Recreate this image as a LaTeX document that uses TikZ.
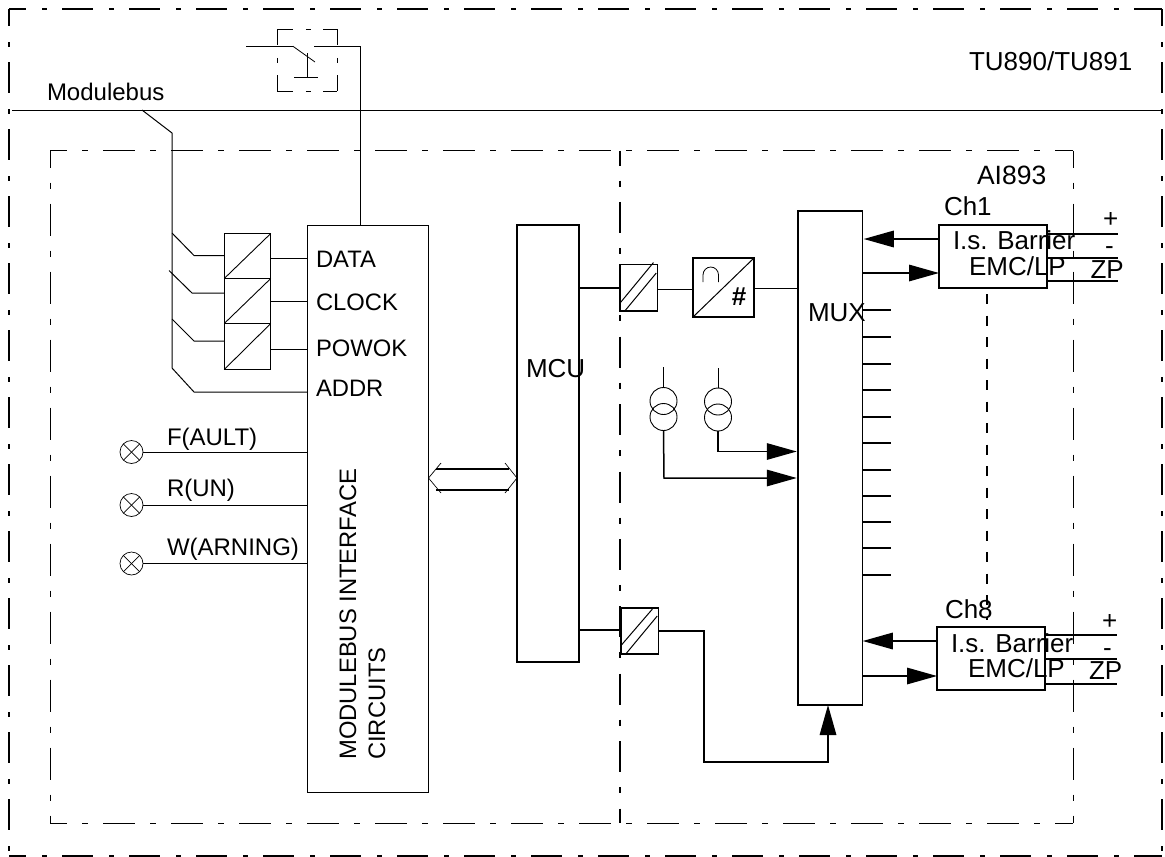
\documentclass[tikz,border=0pt]{standalone}
\usepackage{fontspec}
\setmainfont{Liberation Sans}
\usetikzlibrary{arrows.meta}
\tikzset{
 x=1pt,y=-1pt,
 box/.style={draw,line width=1.5pt,rectangle,inner sep=0pt,outer sep=0pt,fill=none},
 thinbox/.style={box,line width=1pt},
 wire/.style={line width=1pt},
 hwire/.style={line width=1.5pt},
 lbl/.style={anchor=base west,inner sep=0pt,outer sep=0pt,font=\fontsize{#1}{#1}\selectfont},
 lbl/.default=23.8,
 biglbl/.style={lbl=26},
 lamp/.style={draw,circle,minimum size=23pt,inner sep=0pt,outer sep=0pt,line width=.7pt},
 src/.style={draw,circle,minimum size=27pt,inner sep=0pt,outer sep=0pt,line width=.9pt},
 outerframe/.style={line width=2pt,dash pattern=on 31pt off 16pt on 5pt off 15pt,dash phase=14pt},
 outerbottom/.style={line width=1.1pt,dash pattern=on 31pt off 16pt on 5pt off 15pt,dash phase=14pt},
 innerframe/.style={line width=1pt,dash pattern=on 32pt off 15pt on 6pt off 15pt,dash phase=15pt},
 splitline/.style={line width=1.5pt,dash pattern=on 31pt off 15pt on 6pt off 15.4pt,dash phase=16pt},
 linkline/.style={line width=1.5pt,dash pattern=on 10pt off 11.5pt},
 switchframe/.style={line width=.9pt,dash pattern=on 16pt off 12.5pt on 5pt off 12.5pt},
 arr/.style={hwire,-{Triangle[length=30pt,width=16.5pt]}},
}
\begin{document}
\begin{tikzpicture}
\useasboundingbox (0,0) rectangle (1165,857);
% outer frame
\coordinate (oTL) at (9,9); \coordinate (oTR) at (1162,9);
\coordinate (oBL) at (9,856); \coordinate (oBR) at (1162,856);
\draw[outerframe] (oTL) -- (oTR);
\draw[outerframe] (oTL) -- (oBL);
\draw[outerframe] (oTR) -- (oBR);
\draw[outerbottom] (oBL) -- (oBR);
% inner frame
\coordinate (iTL) at (50,150.5); \coordinate (iTR) at (1073,150.5);
\coordinate (iBL) at (50,823); \coordinate (iBR) at (1073,823);
\coordinate (iTM) at (620,150.5); \coordinate (iBM) at (620,823);
\draw[innerframe] (iTL) -- (iTR);
\draw[innerframe] (iBL) -- (iBR);
\draw[innerframe] (iTL) -- (iBL);
\draw[innerframe] (iTR) -- (iBR);
\draw[splitline] (iTM) -- (iBM);
% modulebus
\coordinate (busL) at (12,110); \coordinate (busR) at (1162,110);
\draw[wire] (busL) -- (busR);
\node[lbl=24] (modbus) at (47,100.7) {Modulebus};
\node[lbl=26] (tu) at (969,70.7) {TU890/TU891};
% main boxes
\node[thinbox,minimum width=121pt,minimum height=567pt] (iface) at (368,509) {};
\node[box,minimum width=62pt,minimum height=437pt] (mcu) at (548,443.5) {};
\node[box,minimum width=64.5pt,minimum height=494pt] (mux) at (830,458) {};
% converters left
\node[thinbox,minimum width=46.5pt,minimum height=45pt] (cA) at (247.5,256) {};
\node[thinbox,minimum width=46.5pt,minimum height=45pt] (cB) at (247.5,301) {};
\node[thinbox,minimum width=46.5pt,minimum height=46pt] (cC) at (247.5,346.5) {};
\foreach \n in {cA,cB,cC} \draw[line width=.9pt] (\n.south west) -- (\n.north east);
% bus branches
\coordinate (tapTop) at (142,110); \coordinate (tapCorner) at (172,133);
\coordinate (tapEnd) at (172,368); \coordinate (addrBend) at (194,392);
\draw[wire] (tapTop) -- (tapCorner) -- (tapEnd) -- (addrBend) -- (iface.west |- addrBend);
\coordinate (bA0) at (172,233); \coordinate (bA1) at (194,255.5);
\coordinate (bB0) at (169,270.5); \coordinate (bB1) at (192,293);
\coordinate (bC0) at (172,319); \coordinate (bC1) at (194,341);
\draw[wire] (bA0) -- (bA1) -- (cA.west |- bA1);
\draw[wire] (bB0) -- (bB1) -- (cB.west |- bB1);
\draw[wire] (bC0) -- (bC1) -- (cC.west |- bC1);
\draw[wire] (cA.east |- 0,258) -- (iface.west |- 0,258);
\draw[wire] (cB.east |- 0,301) -- (iface.west |- 0,301);
\draw[wire] (cC.east |- 0,349) -- (iface.west |- 0,349);
\node[lbl] at (316,267.7) {DATA};
\node[lbl] at (316,310.7) {CLOCK};
\node[lbl] at (316,356.7) {POWOK};
\node[lbl] at (316,396.7) {ADDR};
% switch
\coordinate (swA) at (246,46.3); \coordinate (swB) at (293,46.3);
\coordinate (swC) at (315,62); \coordinate (swD) at (314,46.3);
\coordinate (swE) at (360,46.3);
\coordinate (swF) at (307.5,53); \coordinate (swG) at (307.5,77);
\coordinate (swH) at (294,77); \coordinate (swI) at (318,77);
\draw[wire] (swA) -- (swB);
\draw[line width=.8pt] (swB) -- (swC);
\draw[wire] (swD) -- (swE) -- (iface.north -| swE);
\draw[wire] (swF) -- (swG);
\draw[wire] (swH) -- (swI);
\coordinate (fA) at (277.3,29.3); \coordinate (fB) at (337.3,29.3);
\coordinate (fC) at (277.3,91); \coordinate (fD) at (337.3,91);
\draw[switchframe] (fA) -- (fB);
\draw[switchframe] (fC) -- (fD);
\draw[switchframe] (fA) -- (fC);
\draw[switchframe] (fB) -- (fD);
% lamps
\node[lamp] (lF) at (131.5,452) {};
\node[lamp] (lR) at (131.5,505) {};
\node[lamp] (lW) at (131.5,563.5) {};
\foreach \n in {lF,lR,lW} {
 \draw[line width=.7pt] (\n.45) -- (\n.225);
 \draw[line width=.7pt] (\n.135) -- (\n.-45);
 \draw[wire] (\n.east) -- (iface.west |- \n.east);
}
\node[lbl=24] at (167,445) {F(AULT)};
\node[lbl=24] at (167,496.7) {R(UN)};
\node[lbl=24] at (167,555.7) {W(ARNING)};
% rotated text
\node[anchor=base west,rotate=90,inner sep=0pt,font=\fontsize{23.8}{23.8}\selectfont] at (356,760) {MODULEBUS INTERFACE};
\node[anchor=base west,rotate=90,inner sep=0pt,font=\fontsize{23.8}{23.8}\selectfont] at (385,760) {CIRCUITS};
% bus arrow
\coordinate (dL) at (iface.east |- 0,478); \coordinate (dR) at (mcu.west |- 0,478);
\coordinate (dLu) at (441,463); \coordinate (dLd) at (441,493);
\coordinate (dRu) at (505,463); \coordinate (dRd) at (505,493);
\coordinate (dLa) at (436,469); \coordinate (dLb) at (436,490);
\coordinate (dRa) at (509,469); \coordinate (dRb) at (509,490);
\draw[line width=.7pt] (dLu) -- (dL) -- (dLd);
\draw[line width=.7pt] (dRu) -- (dR) -- (dRd);
\draw[hwire] (dLa) -- (dRa);
\draw[hwire] (dLb) -- (dRb);
\node[biglbl] at (526,377.7) {MCU};
\node[biglbl] at (808,321) {MUX};
% converters right
\node[box,minimum width=37.5pt,minimum height=46.5pt] (cD) at (638.5,287.8) {};
\node[box,minimum width=37.5pt,minimum height=46pt] (cE) at (639.5,631) {};
\draw[line width=1pt] ([yshift=-.5pt,xshift=.7pt]cD.south west) ++(0,-9) -- ++(33,-40);
\draw[line width=1pt] ([xshift=5pt]cD.south west) -- ++(31.5,-38);
\draw[line width=1pt] ([xshift=.7pt]cE.south west) ++(0,-9) -- ++(31,-36);
\draw[line width=1pt] ([xshift=5pt]cE.south west) -- ++(31.5,-38);
\node[box,minimum width=61pt,minimum height=59pt] (adc) at (723.5,287.5) {};
\draw[line width=1pt] (adc.south west) -- (adc.north east);
\coordinate (arcA) at (703,282); \coordinate (arcB) at (718.5,282);
\draw[line width=.8pt] (arcA) -- ++(0,-7) arc[start angle=180,end angle=0,x radius=7.75pt,y radius=8pt] -- (arcB);
\node[font=\bfseries\fontsize{26}{26}\selectfont,inner sep=0pt] (hash) at (739,296.5) {\#};
\draw[hwire] (mcu.east |- 0,288) -- (cD.west |- 0,288);
\draw[wire] (cD.east |- 0,289) -- (adc.west |- 0,289);
\draw[wire] (adc.east |- 0,288) -- (mux.west |- 0,288);
\draw[hwire] (mcu.east |- 0,630) -- (cE.west |- 0,630);
\coordinate (pA) at (704,631); \coordinate (pB) at (704,762); \coordinate (pC) at (828,762);
\draw[arr] (cE.east |- pA) -- (pA) -- (pB) -- (pC) -- (mux.south -| pC);
% current sources
\node[src] (s1a) at (663.5,401) {};
\node[src] (s1b) at (663.5,417) {};
\node[src] (s2a) at (718,401.5) {};
\node[src] (s2b) at (718,417.5) {};
\coordinate (s1t) at (663,367); \coordinate (s2t) at (718,368);
\draw[wire] (s1t) -- (s1a.north -| s1t);
\draw[wire] (s2t) -- (s2a.north);
\coordinate (s1c) at (664,478); \coordinate (s2c) at (718,451.5);
\draw[arr] (s1b.south) -- (s1c) -- ([xshift=-1pt]mux.west |- s1c);
\draw[arr] (s2b.south) -- (s2c) -- ([xshift=-1pt]mux.west |- s2c);
% mux ticks
\foreach \i/\y in {1/310,2/337,3/364,4/390,5/417,6/443,7/470,8/496,9/522,10/548,11/575}{
 \coordinate (t\i) at (891,\y);
 \draw[hwire] (mux.east |- t\i) -- (t\i);
}
% channel boxes
\node[box,minimum width=108pt,minimum height=63pt] (ch1) at (993,256.5) {};
\node[box,minimum width=108pt,minimum height=63pt] (ch8) at (991,658.5) {};
\draw[arr] (ch1.west |- 0,239) -- ([xshift=1.5pt]mux.east |- 0,239);
\draw[arr] (mux.east |- 0,273) -- (ch1.west |- 0,273);
\draw[arr] (ch8.west |- 0,641) -- ([xshift=.5pt]mux.east |- 0,641);
\draw[arr] (mux.east |- 0,676) -- (ch8.west |- 0,676);
\foreach \i/\y in {a/234,b/258,c/281}{
 \coordinate (o\i) at (1118,\y);
 \draw[hwire] (ch1.east |- o\i) -- (o\i);
}
\foreach \i/\y in {d/635,e/659,f/684}{
 \coordinate (o\i) at (1117,\y);
 \draw[hwire] (ch8.east |- o\i) -- (o\i);
}
\coordinate (lnkA) at (987,294); \coordinate (lnkB) at (987,620);
\draw[linkline] (lnkA) -- (lnkB);
\node[lbl=26.5] at (977,184) {AI893};
\node[biglbl] at (944,215.7) {Ch1};
\node[biglbl] at (953,249.7) {I.s. Barrier};
\node[biglbl] at (969,275) {EMC/LP};
\node[biglbl] at (1103,227) {+};
\node[biglbl] at (1105,254) {-};
\node[biglbl] at (1090.5,278) {ZP};
\node[biglbl] at (945,618.7) {Ch8};
\node[biglbl] at (951,652) {I.s. Barrier};
\node[biglbl] at (968,677) {EMC/LP};
\node[biglbl] at (1102,629) {+};
\node[biglbl] at (1103,656) {-};
\node[biglbl] at (1089,679) {ZP};
\end{tikzpicture}
\end{document}
